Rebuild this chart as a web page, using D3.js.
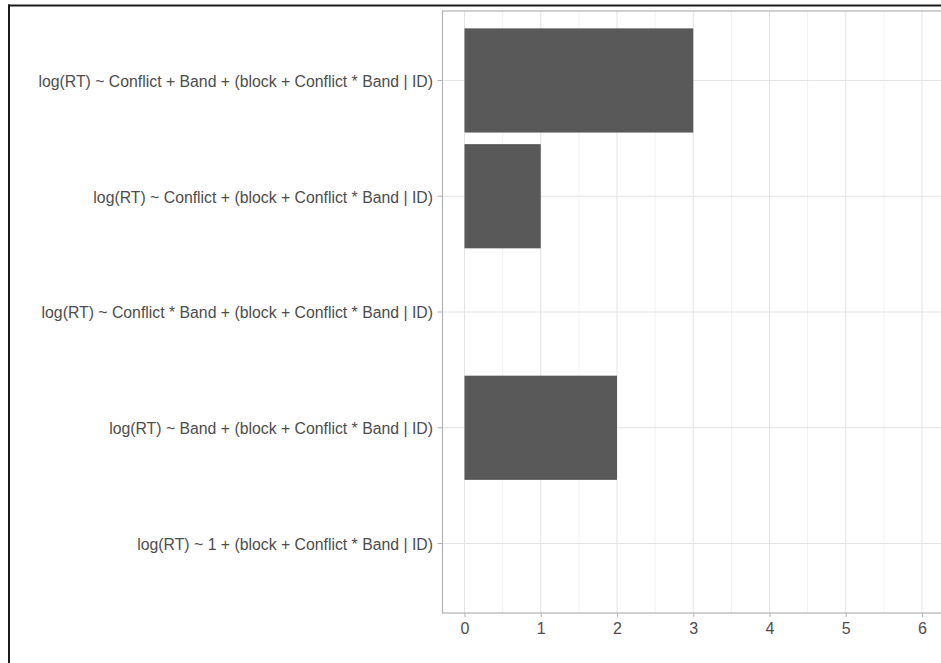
<!DOCTYPE html>
<html>
<head>
<meta charset="utf-8">
<script src="https://cdn.jsdelivr.net/npm/d3@7"></script>
<style>
  html, body { margin: 0; padding: 0; background: #fff; }
  svg { display: block; }
</style>
</head>
<body>
<svg id="chart" width="941" height="663"></svg>
<script>
const categories = [
  "log(RT) ~ Conflict + Band + (block + Conflict * Band | ID)",
  "log(RT) ~ Conflict + (block + Conflict * Band | ID)",
  "log(RT) ~ Conflict * Band + (block + Conflict * Band | ID)",
  "log(RT) ~ Band + (block + Conflict * Band | ID)",
  "log(RT) ~ 1 + (block + Conflict * Band | ID)"
];
const counts = [3, 1, 0, 2, 0];
const xTicks = [0, 1, 2, 3, 4, 5, 6];
const xMinorTicks = [0.5, 1.5, 2.5, 3.5, 4.5, 5.5, 6.5];

const svg = d3.select("#chart");
const W = 941, H = 663;
const panel = { left: 442.5, top: 11, right: 960, bottom: 613 };

// outer frame (cropped screenshot border)
svg.append("rect").attr("x", 0).attr("y", 0).attr("width", W).attr("height", H).attr("fill", "#fff");
svg.append("line").attr("x1", 8).attr("x2", W).attr("y1", 5.5).attr("y2", 5.5)
  .attr("stroke", "#1a1a1a").attr("stroke-width", 2);
svg.append("line").attr("x1", 9).attr("x2", 9).attr("y1", 4.5).attr("y2", H)
  .attr("stroke", "#1a1a1a").attr("stroke-width", 2);

const x = d3.scaleLinear().domain([0, 6]).range([464.5, 922]);
const y = d3.scaleBand().domain(categories).range([panel.top, panel.bottom])
  .paddingInner(0.1).paddingOuter(0.15);

const g = svg.append("g");

// minor vertical gridlines
g.selectAll(".vminor").data(xMinorTicks).join("line")
  .attr("x1", d => x(d)).attr("x2", d => x(d))
  .attr("y1", panel.top).attr("y2", panel.bottom)
  .attr("stroke", "#f2f2f2").attr("stroke-width", 1);
// major vertical gridlines
g.selectAll(".vmajor").data(xTicks).join("line")
  .attr("x1", d => x(d)).attr("x2", d => x(d))
  .attr("y1", panel.top).attr("y2", panel.bottom)
  .attr("stroke", "#e3e3e3").attr("stroke-width", 1);
// horizontal gridlines
g.selectAll(".hmajor").data(categories).join("line")
  .attr("x1", panel.left).attr("x2", panel.right)
  .attr("y1", d => y(d) + y.bandwidth() / 2).attr("y2", d => y(d) + y.bandwidth() / 2)
  .attr("stroke", "#e3e3e3").attr("stroke-width", 1);

// bars
g.selectAll(".bar").data(categories.map((c, i) => ({ c, v: counts[i] }))).join("rect")
  .attr("x", x(0))
  .attr("y", d => y(d.c))
  .attr("width", d => x(d.v) - x(0))
  .attr("height", y.bandwidth())
  .attr("fill", "#595959");

// panel border
svg.append("rect")
  .attr("x", panel.left).attr("y", panel.top)
  .attr("width", panel.right - panel.left).attr("height", panel.bottom - panel.top)
  .attr("fill", "none").attr("stroke", "#b3b3b3").attr("stroke-width", 1.2);

// y axis
const yAxis = d3.axisLeft(y).tickSize(5).tickPadding(4.5);
const ya = svg.append("g").attr("transform", `translate(${panel.left},0)`).call(yAxis);
ya.select(".domain").remove();
ya.selectAll(".tick line").attr("stroke", "#b3b3b3");
ya.selectAll(".tick text")
  .attr("fill", "#4d4d4d")
  .attr("dy", "0.4em")
  .style("font-family", "'Liberation Sans', Arial, sans-serif")
  .style("font-size", "15.8px");

// x axis
const xAxis = d3.axisBottom(x).tickValues(xTicks).tickSize(4).tickPadding(6).tickFormat(d3.format("d"));
const xa = svg.append("g").attr("transform", `translate(0,${panel.bottom})`).call(xAxis);
xa.select(".domain").remove();
xa.selectAll(".tick line").attr("stroke", "#b3b3b3");
xa.selectAll(".tick text")
  .attr("fill", "#4d4d4d")
  .style("font-family", "'Liberation Sans', Arial, sans-serif")
  .style("font-size", "16px");
</script>
</body>
</html>
